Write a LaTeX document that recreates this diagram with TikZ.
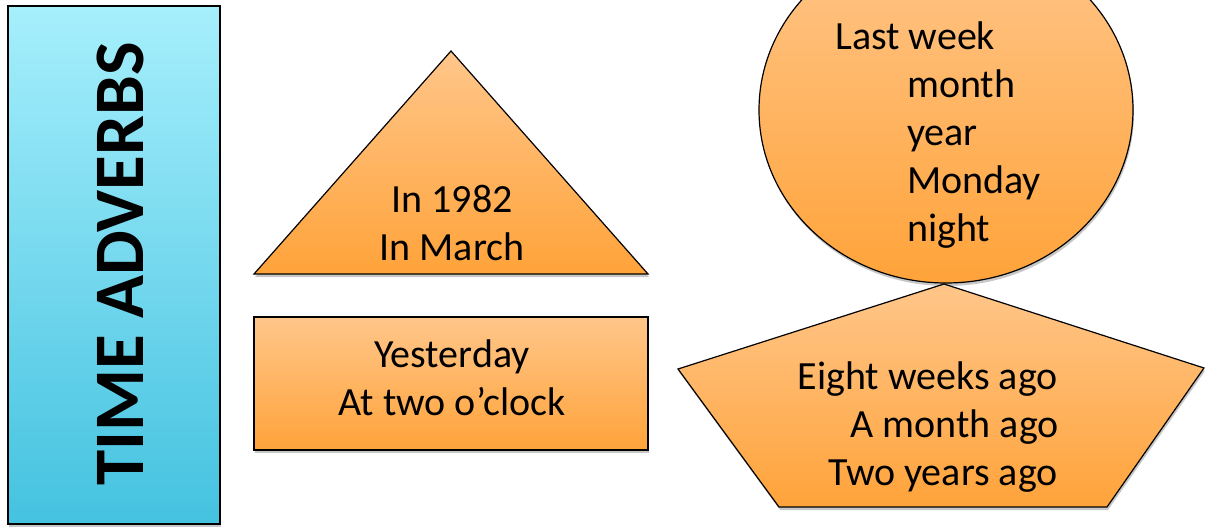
\documentclass[tikz,border=0pt]{standalone}
\usepackage{fontspec}
\setmainfont{Carlito}
\usetikzlibrary{shadows}
\definecolor{orTop}{RGB}{255,198,138}
\definecolor{orBot}{RGB}{255,163,58}
\definecolor{cyTop}{RGB}{166,239,252}
\definecolor{cyBot}{RGB}{68,194,224}
\tikzset{
  orshape/.style={top color=orTop, bottom color=orBot, draw=black, line width=1.2pt, line join=miter,
    drop shadow={shadow xshift=1pt, shadow yshift=-3pt, opacity=0.22, fill=black}},
  cyshape/.style={top color=cyTop, bottom color=cyBot, draw=black, line width=1.2pt,
    drop shadow={shadow xshift=1pt, shadow yshift=-3pt, opacity=0.22, fill=black}},
  bigtxt/.style={font=\fontsize{40}{48}\selectfont, inner sep=0pt, text=black},
  titletxt/.style={font=\bfseries\fontsize{71}{80}\selectfont, inner sep=0pt, text=black}
}
\begin{document}
\begin{tikzpicture}[x=1pt,y=-1pt]
\useasboundingbox (0,0) rectangle (1205,530);
\fill[white] (0,0) rectangle (1205,530);
\begin{scope}
\clip (0,0) rectangle (1205,530);
% left title box
\path[cyshape] (8,6) rectangle (220,524);
\node[titletxt, rotate=90, anchor=base] (title) at (143,264) {TIME ADVERBS};
% triangle
\path[orshape] (451,51) -- (648,274) -- (254,274) -- cycle;
\node[bigtxt, anchor=base] (t1) at (452,212) {In 1982};
\node[bigtxt, anchor=base] (t2) at (452,260) {In March};
% rectangle
\path[orshape] (254,317) rectangle (648,450);
\node[bigtxt, anchor=base] (r1) at (452,367) {Yesterday};
\node[bigtxt, anchor=base] (r2) at (452,415) {At two o’clock};
% ellipse
\path[orshape] (946,110) ellipse [x radius=187, y radius=173];
\node[bigtxt, anchor=base west] (e1) at (835,49) {Last week};
\node[bigtxt, anchor=base west] (e2) at (907,97) {month};
\node[bigtxt, anchor=base west] (e3) at (907,145) {year};
\node[bigtxt, anchor=base west] (e4) at (907,193) {Monday};
\node[bigtxt, anchor=base west] (e5) at (907,241) {night};
% pentagon
\path[orshape] (944,284) -- (1204,368) -- (1107,507) -- (779,507) -- (678,369) -- cycle;
\node[bigtxt, anchor=base east] (p1) at (1058,389) {Eight weeks ago};
\node[bigtxt, anchor=base east] (p2) at (1059,437) {A month ago};
\node[bigtxt, anchor=base east] (p3) at (1058,485) {Two years ago};
\end{scope}
\end{tikzpicture}
\end{document}
